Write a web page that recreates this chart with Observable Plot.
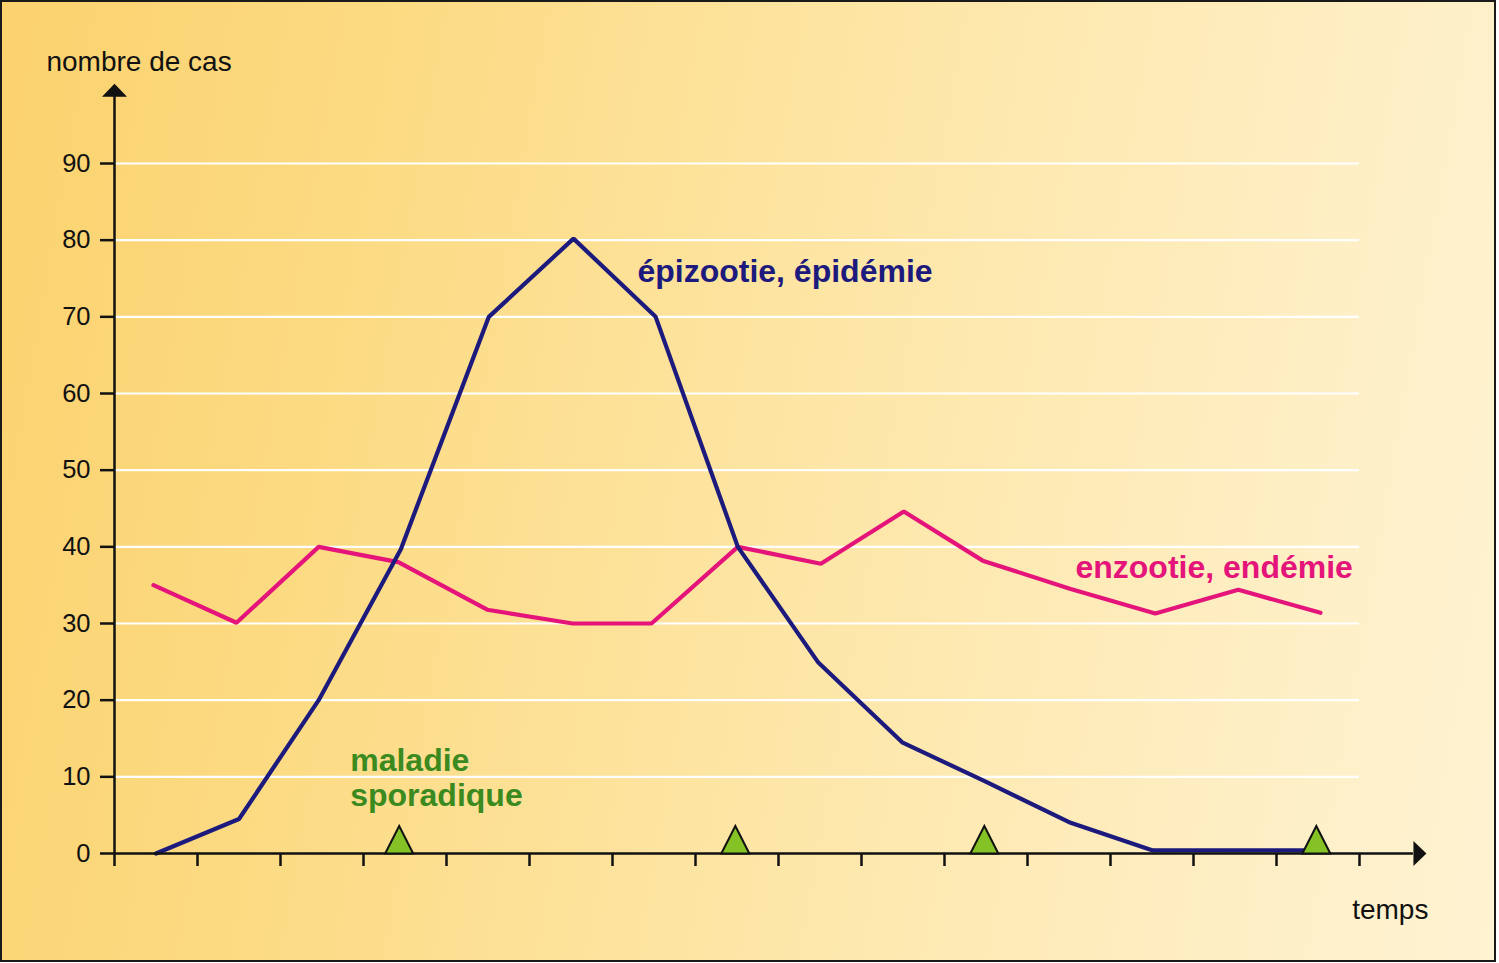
<!DOCTYPE html>
<html><head><meta charset="utf-8">
<script src="https://cdn.jsdelivr.net/npm/d3@7"></script>
<script src="https://cdn.jsdelivr.net/npm/@observablehq/plot@0.6"></script>
<style>
html,body{margin:0;padding:0;overflow:hidden;background:#fff;width:1499px;height:963px}
#frame{position:absolute;left:0;top:0;width:1496px;height:962px;box-sizing:border-box;border:2.5px solid #1a1a1a;
background:linear-gradient(100deg,#fbd26e 0%,#fcdb84 25%,#fde6a7 55%,#feefc6 85%,#fef3d2 100%)}
#chart{position:absolute;left:0;top:0}
</style></head><body><div id="frame"></div><div id="chart"></div>
<script>
// épizootie, épidémie : time (period) and number of cases
const epidemicTime = [1, 2, 2.96, 3.95, 5.01, 6.03, 7.02, 8.01, 8.98, 9.99, 10.99, 12.02, 13.01, 14.01, 14.97];
const epidemic     = [0, 4.5, 20, 39.7, 70, 80.2, 70, 40, 24.9, 14.5, 9.4, 4.0, 0.4, 0.4, 0.4];
// enzootie, endémie
const endemicTime  = [0.97, 1.97, 2.96, 3.92, 4.99, 6.02, 6.97, 8.01, 9.01, 10.01, 10.96, 12.02, 13.04, 14.04, 15.03];
const endemic      = [35, 30.1, 40, 38, 31.8, 30, 30, 40, 37.8, 44.6, 38.2, 34.5, 31.3, 34.4, 31.4];
// maladie sporadique: isolated cases
const sporadicTime = [3.93, 7.98, 10.98, 14.98];
const yTicks = [0,10,20,30,40,50,60,70,80,90];
const gridValues = [10,20,30,40,50,60,70,80,90];
const boundaries = [0.5,1.5,2.5,3.5,4.5,5.5,6.5,7.5,8.5,9.5,10.5,11.5,12.5,13.5,14.5,15.5];
const seriesLabels = ["épizootie, épidémie", "enzootie, endémie", "maladie\nsporadique"];
const axisTitles = ["nombre de cas", "temps"];

const epiRows = epidemicTime.map((t,i)=>({t, v:epidemic[i]}));
const endRows = endemicTime.map((t,i)=>({t, v:endemic[i]}));

const upHead = {draw(ctx){ctx.moveTo(-12.5,0);ctx.lineTo(0,-13);ctx.lineTo(12.5,0);ctx.closePath();}};
const rightHead = {draw(ctx){ctx.moveTo(0,-12.5);ctx.lineTo(13,0);ctx.lineTo(0,12.5);ctx.closePath();}};
const tri = {draw(ctx){ctx.moveTo(-14,0);ctx.lineTo(0,-27.5);ctx.lineTo(14,0);ctx.closePath();}};

const bold = {fontSize:32, fontWeight:"bold", lineHeight:1.1};
const plain = {fontSize:28, fill:"#111"};

const plot = Plot.plot({
  width:1499, height:963,
  marginLeft:114, marginRight:140, marginTop:163, marginBottom:110,
  style:{background:"transparent", fontFamily:"'Liberation Sans', Arial, sans-serif", overflow:"visible"},
  x:{type:"linear", domain:[0.5,15.5], axis:null},
  y:{type:"linear", domain:[0,90], axis:null},
  marks:[
    Plot.ruleY(gridValues, {x1:0.5, x2:15.5, stroke:"#ffffff", strokeWidth:2.2}),
    Plot.line(endRows, {x:"t", y:"v", stroke:"#e5147a", strokeWidth:4.2, strokeLinejoin:"miter"}),
    Plot.line(epiRows, {x:"t", y:"v", stroke:"#1d1a7d", strokeWidth:4.2, strokeLinejoin:"miter"}),
    Plot.axisY({ticks:yTicks, tickSize:14, tickPadding:10, fontSize:25.5, stroke:"#111", strokeWidth:2.5, fill:"#111", label:null}),
    Plot.axisX({ticks:boundaries, tickSize:13, tickFormat:()=>"", stroke:"#111", strokeWidth:2.5, label:null}),
    Plot.ruleX([0.5], {y1:0, y2:98.8, stroke:"#111", strokeWidth:2.5}),
    Plot.ruleY([0], {x1:0.5, x2:16.15, stroke:"#111", strokeWidth:2.5}),
    Plot.dot([0.5], {x:d=>d, y:98.7, symbol:upHead, fill:"#111", stroke:"none"}),
    Plot.dot([16.15], {x:d=>d, y:0, symbol:rightHead, fill:"#111", stroke:"none"}),
    Plot.dot(sporadicTime, {x:d=>d, y:0, symbol:tri, fill:"#84c225", stroke:"#111", strokeWidth:2, strokeLinejoin:"miter"}),
    Plot.text([seriesLabels[0]], {x:6.8, y:76, text:d=>d, fill:"#1d1a7d", textAnchor:"start", ...bold}),
    Plot.text([seriesLabels[1]], {x:15.42, y:37.4, text:d=>d, fill:"#e5147a", textAnchor:"end", ...bold}),
    Plot.text([seriesLabels[2]], {x:3.34, y:9.9, text:d=>d, fill:"#3a8a1f", textAnchor:"start", ...bold}),
    Plot.text([axisTitles[0]], {x:-0.32, y:103.3, text:d=>d, textAnchor:"start", ...plain}),
    Plot.text([axisTitles[1]], {x:16.33, y:-7.4, text:d=>d, textAnchor:"end", ...plain})
  ]
});
document.getElementById("chart").appendChild(plot);
</script></body></html>
